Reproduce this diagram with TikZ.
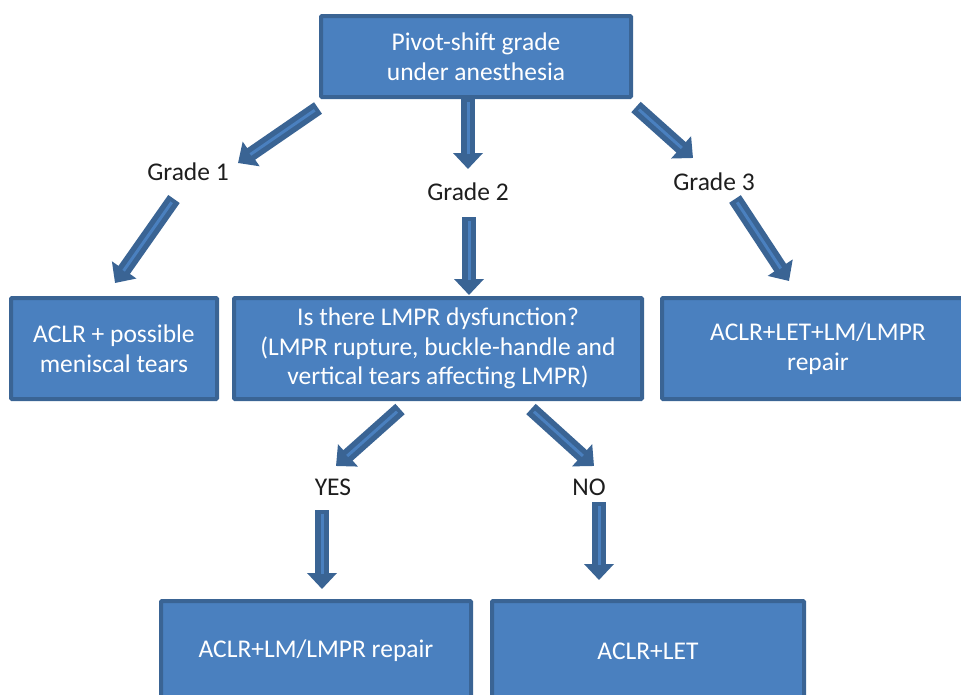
\documentclass[tikz,border=0pt]{standalone}
\usepackage{fontspec}
\setmainfont{Carlito}
\usetikzlibrary{arrows.meta}
\definecolor{boxfill}{HTML}{4A80BF}
\definecolor{boxline}{HTML}{3A6494}
\definecolor{txt}{HTML}{1E1E1E}
\tikzset{
  box/.style={draw=boxline, fill=boxfill, line width=4pt, text=white, align=center,
    font=\fontsize{25.5}{29.5}\selectfont, inner sep=0pt, rounded corners=1pt},
  lbl/.style={text=txt, font=\fontsize{25.5}{29.5}\selectfont, inner sep=0pt},
  blockarrow/.style={draw=boxline, line width=14pt,
    -{Triangle[width=29pt,length=16pt]},
    postaction={draw=boxfill, line width=3pt, -, shorten >=15pt, shorten <=4pt}},
}
\begin{document}
\begin{tikzpicture}[x=1pt,y=-1pt]
\useasboundingbox (0,0) rectangle (961,694);
\clip (0,0) rectangle (961,694);
% boxes
\node[box, minimum width=310pt, minimum height=81pt] (top) at (476,56.5) {Pivot-shift grade\\under anesthesia};
\node[box, minimum width=206pt, minimum height=101pt] (left) at (114,348.5) {ACLR + possible\\meniscal tears};
\node[box, minimum width=408pt, minimum height=101pt] (mid) at (438,348.5) {Is there LMPR dysfunction?\\(LMPR rupture, buckle-handle and\\vertical tears affecting LMPR)};
\node[box, minimum width=312pt, minimum height=101pt] (right) at (818,348.5) {ACLR+LET+LM/LMPR\\repair};
\node[box, minimum width=310pt, minimum height=100pt] (bl) at (316,651) {ACLR+LM/LMPR repair};
\node[box, minimum width=312pt, minimum height=100pt] (br) at (648,651) {ACLR+LET};
% labels
\node[lbl] (g1) at (188,172) {Grade 1};
\node[lbl] (g2) at (468,192) {Grade 2};
\node[lbl] (g3) at (714,182) {Grade 3};
\node[lbl] (yes) at (333,487) {YES};
\node[lbl] (no) at (589,487) {NO};
% arrow ends
\coordinate (a1s) at (318,108); \coordinate (a1e) at (238,163);
\coordinate (a2s) at (468,98);  \coordinate (a2e) at (468,169);
\coordinate (a3s) at (636,107); \coordinate (a3e) at (693,158);
\coordinate (a4s) at (174,199); \coordinate (a4e) at (115,283);
\coordinate (a5s) at (469,217); \coordinate (a5e) at (469,295);
\coordinate (a6s) at (735,199); \coordinate (a6e) at (789,281);
\coordinate (a7s) at (400,409); \coordinate (a7e) at (336,466);
\coordinate (a8s) at (531,409); \coordinate (a8e) at (594,466);
\coordinate (a9s) at (322,510); \coordinate (a9e) at (322,589);
\coordinate (a10s) at (599,502); \coordinate (a10e) at (599,580);
\draw[blockarrow] (a1s) -- (a1e);
\draw[blockarrow] (a2s) -- (a2e);
\draw[blockarrow] (a3s) -- (a3e);
\draw[blockarrow] (a4s) -- (a4e);
\draw[blockarrow] (a5s) -- (a5e);
\draw[blockarrow] (a6s) -- (a6e);
\draw[blockarrow] (a7s) -- (a7e);
\draw[blockarrow] (a8s) -- (a8e);
\draw[blockarrow] (a9s) -- (a9e);
\draw[blockarrow] (a10s) -- (a10e);
\end{tikzpicture}
\end{document}
